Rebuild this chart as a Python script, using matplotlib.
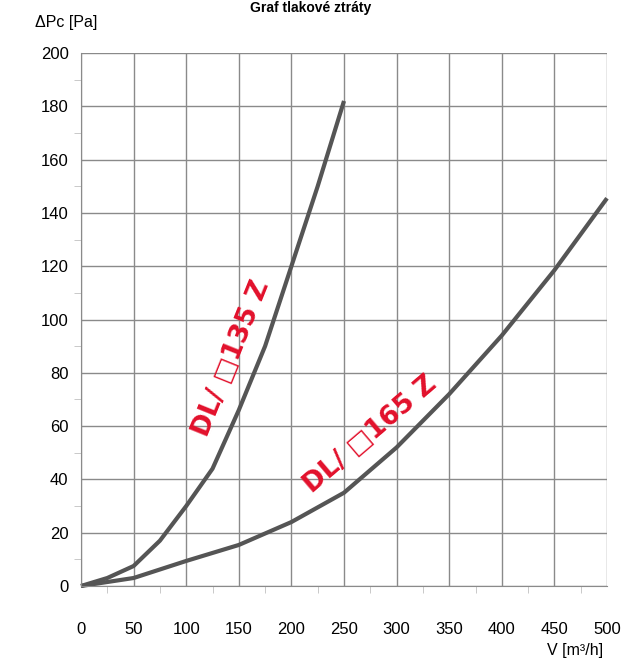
import matplotlib
matplotlib.use("Agg")
import matplotlib.pyplot as plt
from matplotlib.ticker import MultipleLocator

# Data
flow_135 = [0, 25, 50, 75, 100, 125, 150, 175, 200, 225, 250]
dp_135 = [0, 3, 7.5, 17, 30, 44, 66, 90, 120, 150, 182]
flow_165 = [0, 50, 100, 150, 200, 250, 300, 350, 400, 450, 500]
dp_165 = [0, 3, 9.4, 15.4, 24, 35, 52, 72, 94, 118.5, 145.5]
label_135 = "DL/ \u25a1135 Z"
label_165 = "DL/ \u25a1165 Z"
x_ticks = [0, 50, 100, 150, 200, 250, 300, 350, 400, 450, 500]
y_ticks = [0, 20, 40, 60, 80, 100, 120, 140, 160, 180, 200]

plt.rcParams['font.family'] = ['Liberation Sans', 'DejaVu Sans']

fig = plt.figure(figsize=(6.22, 6.63), dpi=100)
ax = fig.add_axes([81/622, 1-586/663, (607-81)/622, (586-53)/663])

ax.set_xlim(0, 500)
ax.set_ylim(0, 200)
ax.set_xticks(x_ticks)
ax.set_yticks(y_ticks)
ax.xaxis.set_minor_locator(MultipleLocator(25))
ax.yaxis.set_minor_locator(MultipleLocator(10))
ax.grid(True, which='major', color='#8a8a8a', lw=1.0)
ax.set_axisbelow(True)
for s in ['top', 'right']:
    ax.spines[s].set_visible(False)
for s in ['left', 'bottom']:
    ax.spines[s].set_color('#8a8a8a')
ax.tick_params(axis='both', which='major', length=0, labelsize=12, colors='#8a8a8a', labelcolor='black')
ax.tick_params(axis='both', which='minor', length=5, colors='#c0c0c0')
ax.tick_params(axis='y', which='major', pad=9)
ax.tick_params(axis='x', which='major', pad=26)

ax.plot(flow_135, dp_135, color='#555555', lw=3, solid_capstyle='butt', clip_on=False)
ax.plot(flow_165, dp_165, color='#555555', lw=3, solid_capstyle='butt', clip_on=False)

red = '#e2102b'
ax.text(143.5, 85.5, label_135, rotation=68, color=red, fontsize=19, fontweight='bold',
        family='DejaVu Sans', ha='center', va='center', rotation_mode='anchor')
ax.text(274.7, 56.7, label_165, rotation=40.5, color=red, fontsize=19, fontweight='bold',
        family='DejaVu Sans', ha='center', va='center', rotation_mode='anchor')

fig.text(0.5, 0.999, "Graf tlakové ztráty", ha='center', va='top', fontsize=10, fontweight='bold')
fig.text(35/622, 1-23/663, "\u0394Pc [Pa]", ha='left', va='center', fontsize=11.5)
fig.text(603/622, 1-650/663, "V [m\u00b3/h]", ha='right', va='center', fontsize=11.5)

fig.savefig("out.png", dpi=100)
